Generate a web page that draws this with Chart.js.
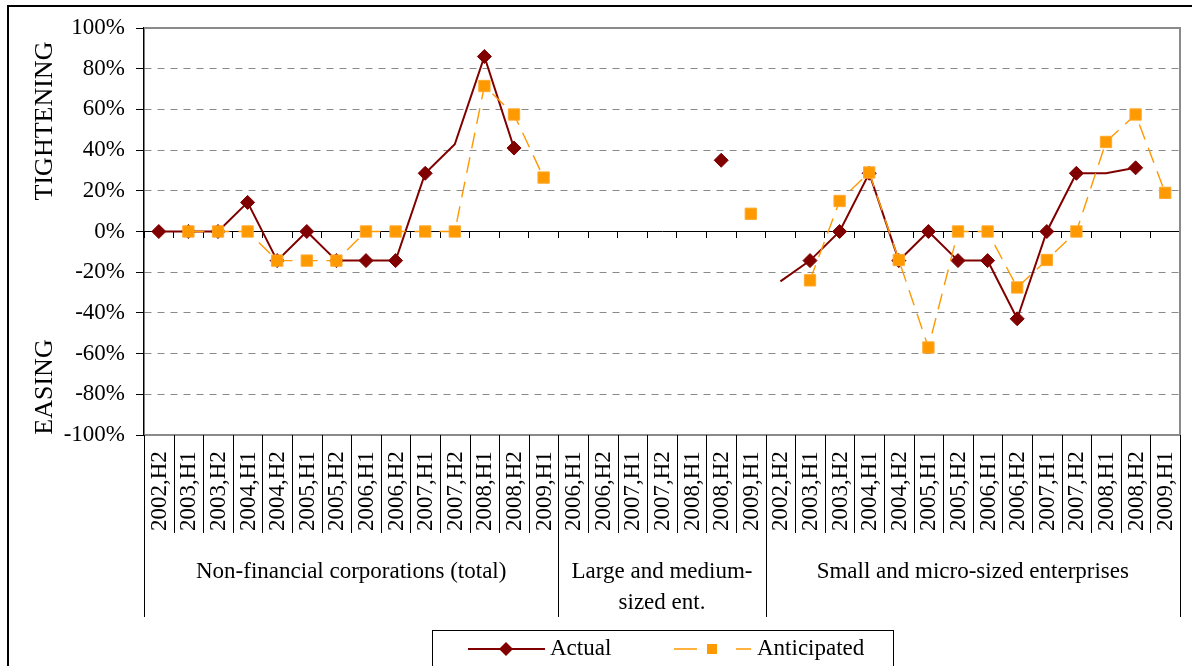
<!DOCTYPE html>
<html>
<head>
<meta charset="utf-8">
<title>Credit standards – non-financial corporations</title>
<script src="https://cdn.jsdelivr.net/npm/chart.js@4.4.1/dist/chart.umd.min.js"></script>
<style>
  html, body { margin: 0; padding: 0; background: #fff; }
  #wrap { width: 1192px; height: 666px; }
</style>
</head>
<body>
<div id="wrap"><canvas id="chart" width="1192" height="666"></canvas></div>
<script>
// Half-year periods for each borrower group
const periodsTotal = ['2002,H2','2003,H1','2003,H2','2004,H1','2004,H2','2005,H1','2005,H2',
                      '2006,H1','2006,H2','2007,H1','2007,H2','2008,H1','2008,H2','2009,H1'];
const periodsLarge = ['2006,H1','2006,H2','2007,H1','2007,H2','2008,H1','2008,H2','2009,H1'];
const periodsSmall = ['2002,H2','2003,H1','2003,H2','2004,H1','2004,H2','2005,H1','2005,H2',
                      '2006,H1','2006,H2','2007,H1','2007,H2','2008,H1','2008,H2','2009,H1'];

const groupNames = [
  ['Non-financial corporations (total)'],
  ['Large and medium-', 'sized ent.'],
  ['Small and micro-sized enterprises']
];

// Net percentage of banks tightening (+) / easing (-) credit standards
const actualTotal = [0, 0, 0, 14.3, -14.3, 0, -14.3, -14.3, -14.3, 28.6, 42.9, 86, 41, null];
const anticipatedTotal = [null, 0, 0, 0, -14.3, -14.3, -14.3, 0, 0, 0, 0, 71.5, 57.5, 26.5];

const actualLarge = [null, null, null, null, null, 35, null];
const anticipatedLarge = [null, null, null, null, null, null, 8.7];

const actualSmall = [-24.5, -14.3, 0, 28.6, -14.3, 0, -14.3, -14.3, -42.9, 0, 28.6, 28.6, 31.3, null];
const anticipatedSmall = [null, -24, 15, 29, -14, -57, 0, 0, -27.5, -14, 0, 44, 57.5, 19];

const yTicks = { min: -100, max: 100, step: 20 };

// Combined series along one category axis
const categories = [...periodsTotal, ...periodsLarge, ...periodsSmall];
const actual = [...actualTotal, ...actualLarge, ...actualSmall];
const anticipated = [...anticipatedTotal, ...anticipatedLarge, ...anticipatedSmall];
const groupSizes = [periodsTotal.length, periodsLarge.length, periodsSmall.length];

// Points on the actual line that are drawn without a marker
const actualNoMarker = new Set([10, 21, 32]);

const FONT = 'Liberation Serif';
const DARK_RED = '#800000';
const ORANGE = '#FF9900';

Chart.defaults.font.family = FONT;
Chart.defaults.color = '#000';

const decorations = {
  id: 'decorations',
  beforeDraw(chart) {
    const { ctx, width, height } = chart;
    ctx.save();
    ctx.fillStyle = '#fff';
    ctx.fillRect(0, 0, width, height);
    ctx.restore();
  },
  beforeDatasetsDraw(chart) {
    const { ctx, chartArea: a } = chart;
    ctx.save();
    // plot area frame (top, right, bottom)
    ctx.strokeStyle = '#8a8a8a';
    ctx.lineWidth = 2;
    ctx.beginPath();
    ctx.moveTo(a.left, a.top);
    ctx.lineTo(a.right, a.top);
    ctx.lineTo(a.right, a.bottom);
    ctx.lineTo(a.left, a.bottom);
    ctx.stroke();
    ctx.restore();
  },
  afterDraw(chart) {
    const { ctx, chartArea: a, scales: { x } } = chart;
    const step = x.getPixelForValue(1) - x.getPixelForValue(0);
    const boundary = k => x.getPixelForValue(k) - step / 2;

    ctx.save();
    // outer frame
    ctx.strokeStyle = '#000';
    ctx.lineWidth = 2;
    ctx.beginPath();
    ctx.moveTo(8, 700);
    ctx.lineTo(8, 6);
    ctx.lineTo(1200, 6);
    ctx.stroke();

    // category separators and period labels
    const labelBottom = a.bottom + 98;
    ctx.lineWidth = 1;
    ctx.strokeStyle = '#000';
    ctx.beginPath();
    for (let k = 0; k <= categories.length; k++) {
      const bx = Math.round(boundary(k)) + 0.5;
      ctx.moveTo(bx, a.bottom);
      ctx.lineTo(bx, labelBottom);
    }
    ctx.stroke();

    ctx.fillStyle = '#000';
    ctx.font = '23px "' + FONT + '"';
    ctx.textAlign = 'left';
    ctx.textBaseline = 'middle';
    categories.forEach((lab, i) => {
      const cx = x.getPixelForValue(i);
      ctx.save();
      ctx.translate(cx + 1, labelBottom - 2);
      ctx.rotate(-Math.PI / 2);
      ctx.fillText(lab, 0, 0);
      ctx.restore();
    });

    // group separators and names
    const groupBottom = a.bottom + 182;
    let start = 0;
    const edges = [0];
    groupSizes.forEach(n => { start += n; edges.push(start); });
    ctx.beginPath();
    edges.forEach(k => {
      const bx = Math.round(boundary(k)) + 0.5;
      ctx.moveTo(bx, a.bottom);
      ctx.lineTo(bx, groupBottom);
    });
    ctx.stroke();

    ctx.textAlign = 'center';
    groupNames.forEach((lines, g) => {
      const cx = (boundary(edges[g]) + boundary(edges[g + 1])) / 2;
      lines.forEach((t, j) => ctx.fillText(t, cx, a.bottom + 137 + j * 31));
    });

    // axis side captions
    ctx.font = '26px "' + FONT + '"';
    [['TIGHTENING', 121], ['EASING', 387]].forEach(([t, cy]) => {
      ctx.save();
      ctx.translate(45, cy);
      ctx.rotate(-Math.PI / 2);
      ctx.fillText(t, 0, 0);
      ctx.restore();
    });

    // legend
    const ly = 649;
    ctx.strokeStyle = '#000';
    ctx.lineWidth = 1;
    ctx.strokeRect(432.5, 630.5, 461, 60);

    ctx.strokeStyle = DARK_RED;
    ctx.lineWidth = 2;
    ctx.beginPath();
    ctx.moveTo(468, ly);
    ctx.lineTo(545, ly);
    ctx.stroke();
    ctx.fillStyle = DARK_RED;
    ctx.beginPath();
    ctx.moveTo(506, ly - 7);
    ctx.lineTo(513, ly);
    ctx.lineTo(506, ly + 7);
    ctx.lineTo(499, ly);
    ctx.closePath();
    ctx.fill();

    ctx.strokeStyle = ORANGE;
    ctx.lineWidth = 1.5;
    ctx.setLineDash([23, 39]);
    ctx.beginPath();
    ctx.moveTo(674, ly);
    ctx.lineTo(751, ly);
    ctx.stroke();
    ctx.setLineDash([]);
    ctx.fillStyle = ORANGE;
    ctx.fillRect(707, ly - 5, 10, 10);

    ctx.fillStyle = '#000';
    ctx.font = '23px "' + FONT + '"';
    ctx.textAlign = 'left';
    ctx.fillText('Actual', 550, ly);
    ctx.fillText('Anticipated', 757, ly);
    ctx.restore();
  }
};

new Chart(document.getElementById('chart'), {
  type: 'line',
  data: {
    labels: categories,
    datasets: [
      {
        label: 'Actual',
        data: actual,
        order: 2,
        borderColor: DARK_RED,
        backgroundColor: DARK_RED,
        borderWidth: 2,
        pointStyle: 'rectRot',
        pointRadius: ctx => actualNoMarker.has(ctx.dataIndex) ? 0 : 7,
        pointBackgroundColor: DARK_RED,
        pointBorderColor: DARK_RED,
        pointBorderWidth: 1,
        spanGaps: false,
        tension: 0
      },
      {
        label: 'Anticipated',
        data: anticipated,
        order: 1,
        borderColor: ORANGE,
        backgroundColor: ORANGE,
        borderWidth: 1.4,
        borderDash: [16, 9],
        pointStyle: 'rect',
        pointRadius: 8,
        pointBackgroundColor: ORANGE,
        pointBorderColor: '#FFA92E',
        pointBorderWidth: 1,
        spanGaps: false,
        tension: 0
      }
    ]
  },
  options: {
    responsive: false,
    animation: false,
    devicePixelRatio: 1,
    layout: { padding: { left: 60, right: 12, top: 28, bottom: 231 } },
    plugins: {
      legend: { display: false },
      tooltip: { enabled: false }
    },
    scales: {
      x: {
        type: 'category',
        offset: true,
        position: { y: 0 },
        ticks: { display: false },
        grid: {
          offset: true,
          drawOnChartArea: false,
          drawTicks: true,
          tickLength: 6,
          tickColor: '#000',
          tickWidth: 1
        },
        border: { display: true, color: '#000', width: 1 }
      },
      y: {
        min: yTicks.min,
        max: yTicks.max,
        afterFit: s => { s.width = 84; },
        ticks: {
          stepSize: yTicks.step,
          padding: 11,
          color: '#000',
          font: { family: FONT, size: 23 },
          callback: v => v + '%'
        },
        grid: {
          color: ctx => (ctx.tick.value === 0 || Math.abs(ctx.tick.value) === 100) ? 'rgba(0,0,0,0)' : '#8a8a8a',
          lineWidth: 1,
          tickLength: 8,
          tickColor: '#000',
          tickWidth: 1
        },
        border: { display: true, color: '#000', width: 1.5, dash: [7, 6] }
      }
    }
  },
  plugins: [decorations]
});
</script>
</body>
</html>
